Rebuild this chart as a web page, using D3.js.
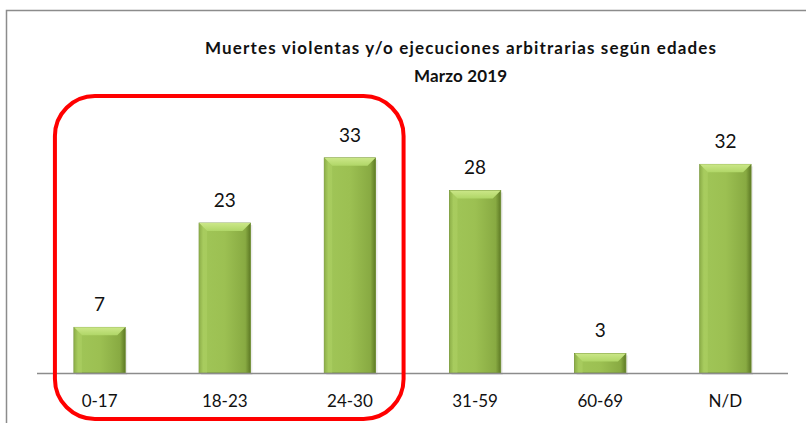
<!DOCTYPE html>
<html>
<head>
<meta charset="utf-8">
<script src="https://cdn.jsdelivr.net/npm/d3@7"></script>
<style>
  html, body { margin: 0; padding: 0; background: #fff; }
  svg { display: block; }
</style>
</head>
<body>
<script>
const categories = ["0-17", "18-23", "24-30", "31-59", "60-69", "N/D"];
const values = [7, 23, 33, 28, 3, 32];
const titleLines = ["Muertes violentas y/o ejecuciones arbitrarias según edades", "Marzo 2019"];
const highlighted = ["0-17", "24-30"];

const W = 806, H = 423;
const svg = d3.select("body").append("svg").attr("width", W).attr("height", H);

const defs = svg.append("defs");
const g1 = defs.append("linearGradient").attr("id", "barGrad").attr("x1", "0").attr("x2", "1").attr("y1", "0").attr("y2", "0");
g1.append("stop").attr("offset", "0%").attr("stop-color", "#6f8f2e");
g1.append("stop").attr("offset", "8%").attr("stop-color", "#a0c557");
g1.append("stop").attr("offset", "50%").attr("stop-color", "#9cc052");
g1.append("stop").attr("offset", "90%").attr("stop-color", "#88aa42");
g1.append("stop").attr("offset", "100%").attr("stop-color", "#5e7a25");
const g2 = defs.append("linearGradient").attr("id", "topGrad").attr("x1", "0").attr("x2", "0").attr("y1", "0").attr("y2", "1");
g2.append("stop").attr("offset", "0%").attr("stop-color", "#cbe788");
g2.append("stop").attr("offset", "100%").attr("stop-color", "#b0d667");

// chart border
svg.append("path").attr("d", `M6.5,${H + 2} L6.5,10.5 L${W + 2},10.5`)
  .attr("fill", "none").attr("stroke", "#8c8c8c").attr("stroke-width", 1.5);

const x = d3.scaleBand().domain(categories).range([37, 788]).paddingInner(0.59).paddingOuter(0.295);
const y = d3.scaleLinear().domain([0, 35]).range([373, 144.8]);

// bars
const bars = svg.append("g").selectAll("g").data(categories).join("g");
bars.append("rect")
  .attr("x", d => x(d) + 2).attr("y", (d, i) => y(values[i]) + 2)
  .attr("width", x.bandwidth()).attr("height", (d, i) => y(0) - y(values[i]))
  .attr("fill", "#000").attr("opacity", 0.08);
bars.append("rect")
  .attr("x", d => x(d)).attr("y", (d, i) => y(values[i]))
  .attr("width", x.bandwidth()).attr("height", (d, i) => y(0) - y(values[i]))
  .attr("fill", "url(#barGrad)").attr("stroke", "#6a8a2c").attr("stroke-width", 0.8);
const bev = 8;
bars.append("path")
  .attr("d", (d, i) => {
    const x0 = x(d), x1 = x(d) + x.bandwidth(), t = y(values[i]);
    const b = Math.min(bev, (y(0) - t) / 2);
    return `M${x0},${t} L${x1},${t} L${x1 - b},${t + b} L${x0 + b},${t + b} Z`;
  })
  .attr("fill", "url(#topGrad)");
bars.append("path")
  .attr("d", (d, i) => {
    const x0 = x(d), x1 = x(d) + x.bandwidth(), t = y(values[i]);
    const b = Math.min(bev, (y(0) - t) / 2);
    return `M${x0},${t} L${x0 + b},${t + b} L${x0 + b},${y(0)} L${x0},${y(0)} Z`;
  })
  .attr("fill", "#b2d469").attr("opacity", 0.45);

// value labels
svg.append("g").selectAll("text").data(categories).join("text")
  .attr("x", d => x(d) + x.bandwidth() / 2)
  .attr("y", (d, i) => y(values[i]) - 16)
  .attr("text-anchor", "middle")
  .attr("font-family", "Lato, 'Open Sans', sans-serif")
  .attr("font-size", 19)
  .attr("fill", "#111")
  .text((d, i) => values[i]);

// axis
const axis = svg.append("g").attr("transform", `translate(0,${y(0)})`)
  .call(d3.axisBottom(x).tickSize(0).tickPadding(22));
axis.select(".domain").attr("stroke", "#8c8c8c").attr("stroke-width", 1.5).attr("d", "M37,0.5H788");
axis.selectAll("text").attr("font-family", "Lato, 'Open Sans', sans-serif").attr("font-size", 17).attr("fill", "#111");

// title
const titleWidths = [511, 93];
const title = svg.append("g").attr("font-family", "Lato, 'Open Sans', sans-serif").attr("font-weight", "bold")
  .attr("font-size", 17).attr("fill", "#111").attr("text-anchor", "middle");
title.selectAll("text").data(titleLines).join("text")
  .attr("x", 460.5).attr("y", (d, i) => 54 + i * 28)
  .attr("textLength", (d, i) => titleWidths[i]).attr("lengthAdjust", "spacing")
  .text(d => d);

// highlight rounded rectangle
const hx0 = x(highlighted[0]) - 19, hx1 = x(highlighted[1]) + x.bandwidth() + 28;
svg.append("rect")
  .attr("x", hx0).attr("y", 96).attr("width", hx1 - hx0).attr("height", 323)
  .attr("rx", 40).attr("ry", 40)
  .attr("fill", "none").attr("stroke", "#ff0000").attr("stroke-width", 4);
</script>
</body>
</html>
